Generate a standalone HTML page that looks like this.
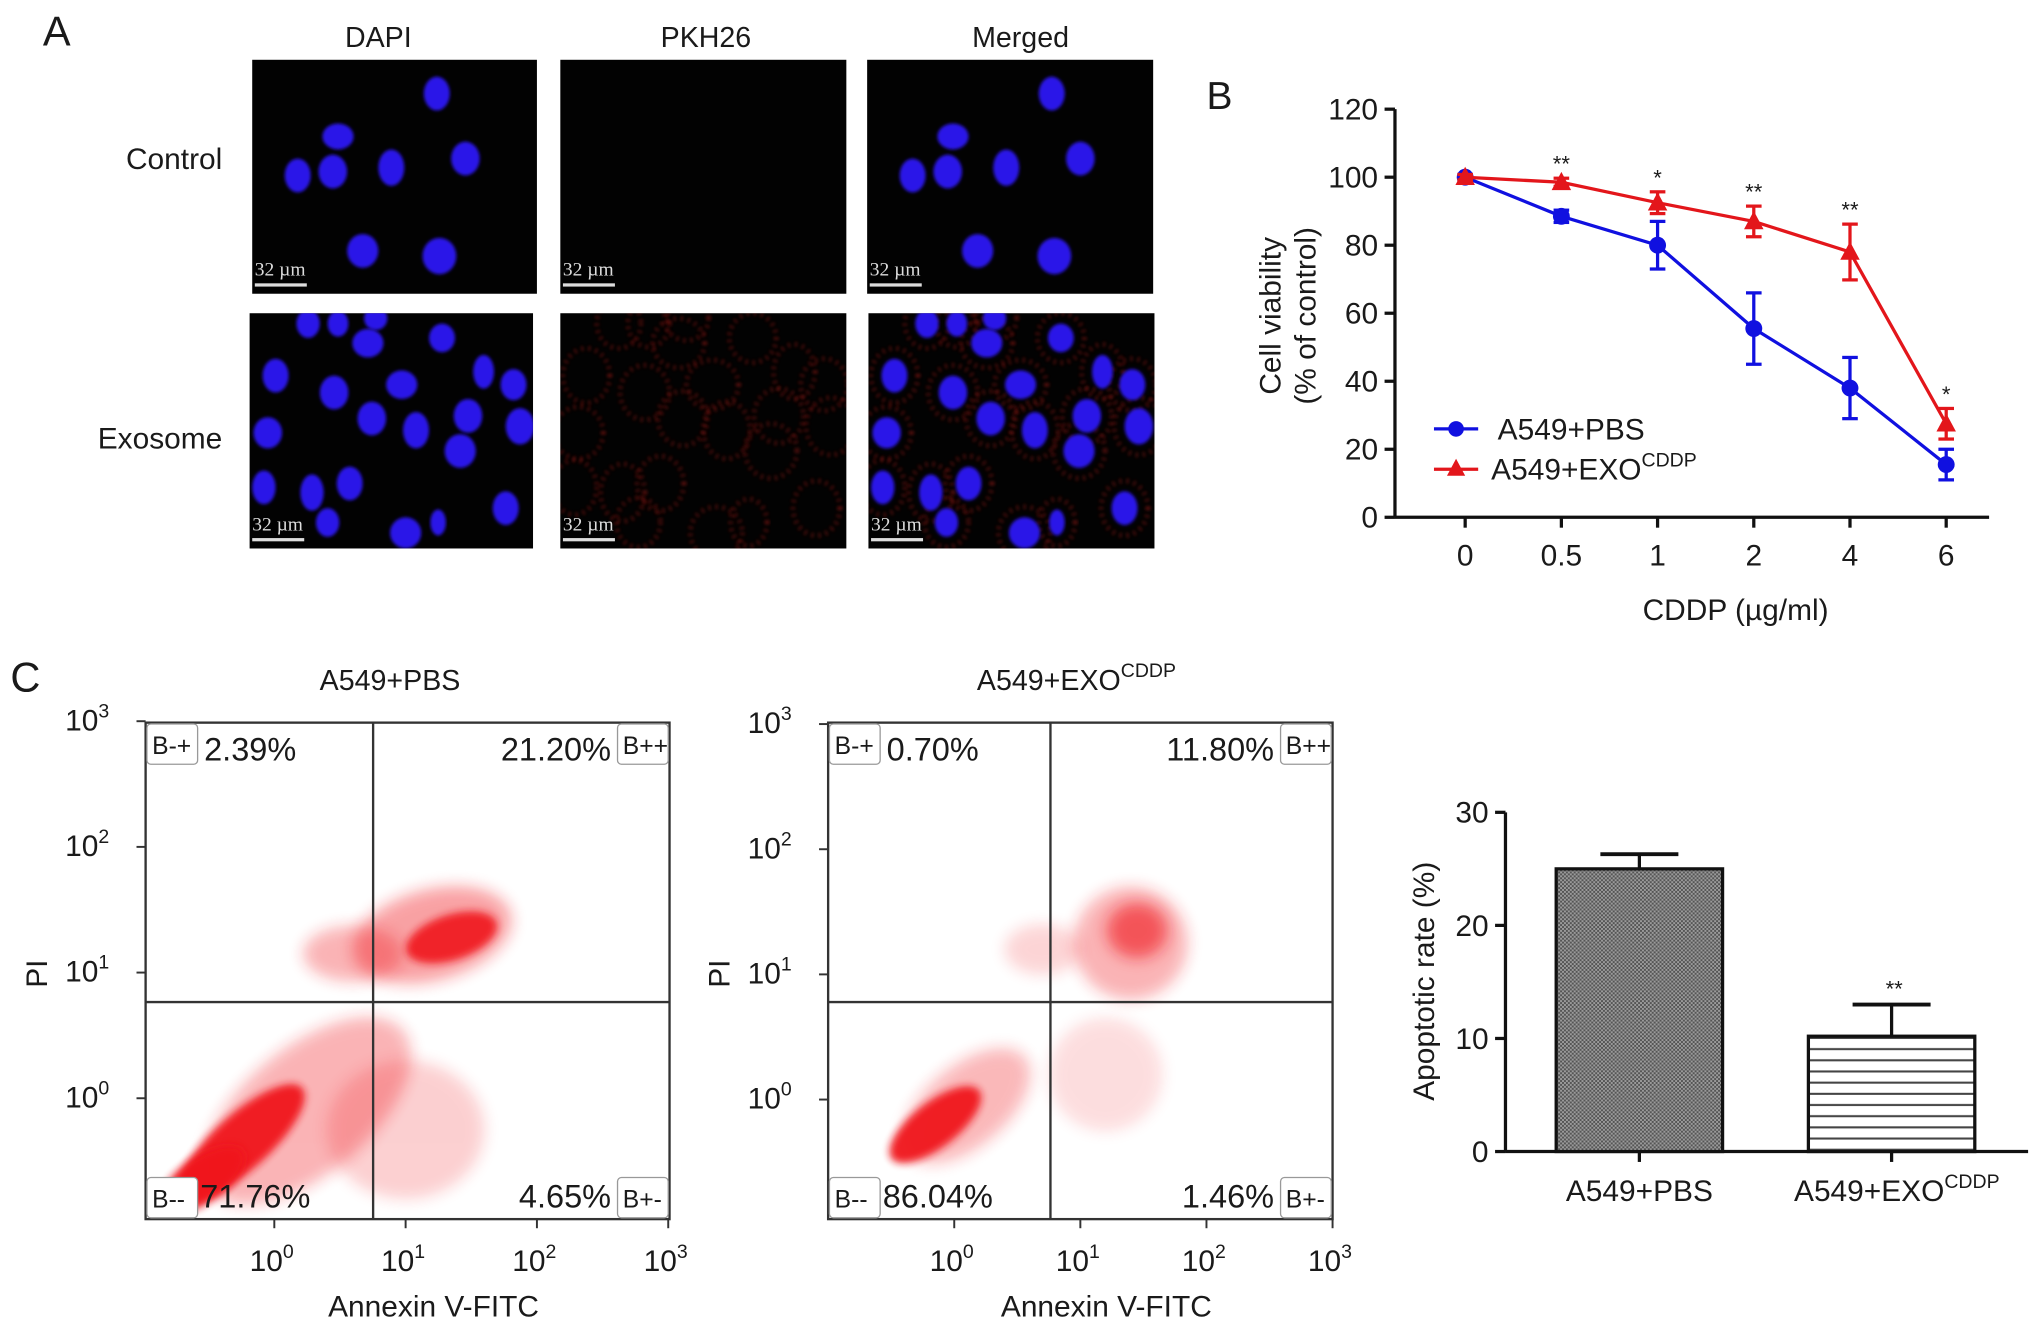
<!DOCTYPE html>
<html><head><meta charset="utf-8"><style>
html,body{margin:0;padding:0;background:#fff}
svg{display:block}
text{font-family:"Liberation Sans",Arial,sans-serif;fill:#1a1a1a}
</style></head><body>
<svg id="fig" xmlns="http://www.w3.org/2000/svg" width="2032" height="1327" viewBox="0 0 1563 1021" preserveAspectRatio="none">
<defs>
<filter id="blur3" x="-50%" y="-50%" width="200%" height="200%"><feGaussianBlur stdDeviation="3"/></filter>
<filter id="blur1"><feGaussianBlur stdDeviation="1.2"/></filter>
<filter id="blur6" x="-50%" y="-50%" width="200%" height="200%"><feGaussianBlur stdDeviation="6"/></filter>
<pattern id="checker" width="3" height="3" patternUnits="userSpaceOnUse"><rect width="3" height="3" fill="#9a9a9a"/><rect width="1.5" height="1.5" fill="#555"/><rect x="1.5" y="1.5" width="1.5" height="1.5" fill="#555"/></pattern>
<pattern id="hlines" width="10" height="8.6" patternUnits="userSpaceOnUse"><rect width="10" height="8.6" fill="#fff"/><rect y="6.6" width="10" height="1.6" fill="#444"/></pattern>
<clipPath id="clipS1"><rect x="112" y="556" width="403" height="382"/></clipPath>
<clipPath id="clipS2"><rect x="637" y="556" width="388" height="382"/></clipPath>
</defs>

<g>
<text x="33" y="35" font-size="32">A</text>
<text x="291" y="36" font-size="22" text-anchor="middle">DAPI</text>
<text x="543" y="36" font-size="22" text-anchor="middle">PKH26</text>
<text x="785" y="36" font-size="22" text-anchor="middle">Merged</text>
<text x="171" y="130" font-size="23" text-anchor="end">Control</text>
<text x="171" y="345" font-size="23" text-anchor="end">Exosome</text>
<g id="micro"></g>
</g>

<g id="panelB">
<text x="928" y="84" font-size="30">B</text>
</g>

<g id="panelC">
<text x="8" y="532" font-size="32">C</text>
</g>
</svg>
<script>
// ---------- Panel B data ----------
const doseLabels = ['0','0.5','1','2','4','6'];
const pbsMean = [100, 88.5, 80, 55.5, 38, 15.5];
const pbsErr  = [0.8, 1.8, 7, 10.5, 9, 4.5];
const exoMean = [100, 98.5, 92.5, 87, 78, 27.5];
const exoErr  = [0.8, 1.2, 3.2, 4.5, 8.2, 4.5];
const sigLabels = ['', '**', '*', '**', '**', '*'];
const viabTicks = [0, 20, 40, 60, 80, 100, 120];

// ---------- Panel C bar data ----------
const barGroups = ['A549+PBS', 'A549+EXO'];
const barMeans = [25, 10.2];
const barErrs = [1.3, 2.8];
const barSig = ['', '**'];
const rateTicks = [0, 10, 20, 30];

// ---------- Flow cytometry data (log10 units): cx, cy, rx, ry, angle, opacity ----------
const pbsClusters = [
  [0.25, -0.1, 0.95, 0.5, -40, 0.32],
  [1.0, -0.25, 0.6, 0.55, 0, 0.2],
  [-0.25, -0.35, 0.62, 0.22, -42, 0.95],
  [-0.55, -0.65, 0.38, 0.18, -35, 0.95],
  [1.2, 1.3, 0.62, 0.36, -15, 0.4],
  [1.35, 1.28, 0.36, 0.18, -18, 0.9],
  [0.6, 1.15, 0.38, 0.22, 0, 0.32]
];
const exoClusters = [
  [0.1, -0.05, 0.6, 0.32, -40, 0.3],
  [1.2, 0.2, 0.45, 0.45, 0, 0.14],
  [-0.15, -0.2, 0.44, 0.18, -38, 0.95],
  [1.4, 1.25, 0.45, 0.45, 0, 0.32],
  [1.45, 1.35, 0.24, 0.22, 0, 0.6],
  [0.7, 1.2, 0.3, 0.2, 0, 0.18]
];
const pbsQuad = ['2.39%', '21.20%', '71.76%', '4.65%'];
const exoQuad = ['0.70%', '11.80%', '86.04%', '1.46%'];
const logTicks = [0, 1, 2, 3];

// ---------- micrograph nuclei (image-local positions) ----------
const ctrlNuclei = [[336,72,10,13],[260,105,12,10],[229,135,10,13],[256,132,11,13],[301,129,10,14],[358,122,11,13],[279,193,12,13],[338,197,13,14]];
const exoNuclei = [[237,249,9,11],[260,249,8,10],[289,245,9,9],[283,264,12,11],[340,260,10,11],[212,289,10,13],[257,302,11,13],[309,296,12,11],[372,286,8,13],[395,296,10,12],[286,322,11,13],[320,331,10,14],[360,320,11,13],[400,328,11,14],[206,333,11,12],[354,347,12,13],[203,375,9,13],[240,379,9,14],[269,372,10,13],[389,391,10,13],[252,402,9,11],[312,410,12,12],[337,402,6,10]];

const NS='http://www.w3.org/2000/svg';
function el(tag, attrs, parent){const e=document.createElementNS(NS,tag);for(const k in attrs)e.setAttribute(k,attrs[k]);if(parent)parent.appendChild(e);return e;}
function txt(str, attrs, parent){const e=el('text',attrs,parent);e.textContent=str;return e;}

// ---------- Panel A ----------
const micro=document.getElementById('micro');
const imgs=[[194,46,219,180,'dapi-control'],[431,46,220,180,'pkh26-control'],[667,46,220,180,'merged-control'],[192,241,218,181,'dapi-exosome'],[431,241,220,181,'pkh26-exosome'],[668,241,220,181,'merged-exosome']];
imgs.forEach((im,idx)=>{
  const g=el('g',{},micro);
  
  
  el('rect',{x:im[0],y:im[1],width:im[2],height:im[3],fill:'#020202'},g);
  const cp=el('clipPath',{id:'cp'+idx},g);el('rect',{x:im[0],y:im[1],width:im[2],height:im[3]},cp);
  const inner=el('g',{'clip-path':'url(#cp'+idx+')'},g);
  const col=idx%3, row=Math.floor(idx/3);
  const list=row===0?ctrlNuclei:exoNuclei;
  const dx=im[0]-(row===0?194:192);
  if((col===1||col===2)&&row===1){
    list.forEach(n=>{el('ellipse',{cx:n[0]+dx,cy:n[1],rx:n[2]+8,ry:n[3]+8,fill:'none',stroke:'#c8201a','stroke-width':4,'stroke-dasharray':'1.5 4',opacity:0.45,filter:'url(#blur1)'},inner);});
  }
  if(col===0||col===2){
    list.forEach(n=>{el('ellipse',{cx:n[0]+dx,cy:n[1],rx:n[2],ry:n[3],fill:'#2a17e8',filter:'url(#blur1)'},inner);});
  }
  const sb=el('g',{},g);
  
  
  txt('32 µm',{x:im[0]+2,y:im[1]+im[3]-14,'font-size':15,style:'font-family:"Liberation Serif",serif;fill:#ddd'},sb);
  el('rect',{x:im[0]+2,y:im[1]+im[3]-8,width:40,height:2.5,fill:'#ddd'},sb);
});

// ---------- Panel B chart ----------
const B=document.getElementById('panelB');
const bx0=1073, by0=398, by120=84, bx1=1530;
const bX=i=>1127+i*74;
const bY=v=>by0-(v/120)*(by0-by120);
el('line',{x1:bx0,y1:by120,x2:bx0,y2:by0,stroke:'#111','stroke-width':2.5},B);
el('line',{x1:bx0,y1:by0,x2:bx1,y2:by0,stroke:'#111','stroke-width':2.5},B);
viabTicks.forEach(t=>{
  const l=el('line',{x1:bx0-8,y1:bY(t),x2:bx0,y2:bY(t),stroke:'#111','stroke-width':2.5},B);
  
  
  const tt=txt(String(t),{x:bx0-13,y:bY(t)+8,'font-size':23,'text-anchor':'end'},B);
  
  
});
doseLabels.forEach((d,i)=>{
  el('line',{x1:bX(i),y1:by0,x2:bX(i),y2:by0+8,stroke:'#111','stroke-width':2.5},B);
  const tt=txt(d,{x:bX(i),y:by0+37,'font-size':23,'text-anchor':'middle'},B);
  
  
});
const yt=txt('',{transform:'translate(985,243) rotate(-90)','font-size':23,'text-anchor':'middle'},B);


el('tspan',{x:0,y:0},yt).textContent='Cell viability';
el('tspan',{x:0,y:27},yt).textContent='(% of control)';
const xt=txt('CDDP (µg/ml)',{x:1335,y:477,'font-size':23,'text-anchor':'middle'},B);


function series(means,errs,color,marker,name){
  const g=el('g',{},B);
  
  
  el('polyline',{points:means.map((v,i)=>bX(i)+','+bY(v)).join(' '),fill:'none',stroke:color,'stroke-width':2.5},g);
  means.forEach((v,i)=>{
    const x=bX(i);
    el('line',{x1:x,y1:bY(v+errs[i]),x2:x,y2:bY(v-errs[i]),stroke:color,'stroke-width':2.5},g);
    el('line',{x1:x-6,y1:bY(v+errs[i]),x2:x+6,y2:bY(v+errs[i]),stroke:color,'stroke-width':2.5},g);
    el('line',{x1:x-6,y1:bY(v-errs[i]),x2:x+6,y2:bY(v-errs[i]),stroke:color,'stroke-width':2.5},g);
    let m;
    if(marker==='circle') m=el('circle',{cx:x,cy:bY(v),r:6.5,fill:color},g);
    else m=el('polygon',{points:`${x},${bY(v)-8} ${x-7.5},${bY(v)+6} ${x+7.5},${bY(v)+6}`,fill:color},g);
    
    
  });
}
series(pbsMean,pbsErr,'#1010e0','circle','series-pbs');
series(exoMean,exoErr,'#e3161b','triangle','series-exo');
sigLabels.forEach((s,i)=>{ if(!s)return;
  const t=txt(s,{x:bX(i),y:bY(exoMean[i]+exoErr[i])-5,'font-size':17,'text-anchor':'middle'},B);
  
  
});
const lg=el('g',{},B);


el('line',{x1:1103,y1:330,x2:1137,y2:330,stroke:'#1010e0','stroke-width':2.5},lg);
el('circle',{cx:1120,cy:330,r:6,fill:'#1010e0'},lg);
txt('A549+PBS',{x:1152,y:338,'font-size':23},lg);
el('line',{x1:1103,y1:361,x2:1137,y2:361,stroke:'#e3161b','stroke-width':2.5},lg);
el('polygon',{points:'1120,353 1113,366 1127,366',fill:'#e3161b'},lg);
const l2=txt('A549+EXO',{x:1147,y:369,'font-size':23},lg);
el('tspan',{dy:-10,'font-size':15},l2).textContent='CDDP';

// ---------- Panel C flow plots ----------
const C=document.getElementById('panelC');
function flow(opt){
  const g=el('g',{},C);
  
  
  const fx=l=>opt.x0+l*opt.dec;
  const fy=l=>opt.y0-l*opt.decY;
  const clip=el('g',{'clip-path':'url(#'+opt.clip+')'},g);
  opt.clusters.forEach(c=>{
    const e=el('ellipse',{cx:fx(c[0]),cy:fy(c[1]),rx:c[2]*opt.dec,ry:c[3]*opt.decY,fill:'#f0141a',opacity:c[5],filter:c[5]>0.6?'url(#blur3)':'url(#blur6)',transform:`rotate(${c[4]} ${fx(c[0])} ${fy(c[1])})`},clip);
    
    
  });
  el('rect',{x:opt.L,y:opt.T,width:opt.R-opt.L,height:opt.B-opt.T,fill:'none',stroke:'#333','stroke-width':1.8},g);
  el('line',{x1:opt.qx,y1:opt.T,x2:opt.qx,y2:opt.B,stroke:'#333','stroke-width':1.8},g);
  el('line',{x1:opt.L,y1:opt.qy,x2:opt.R,y2:opt.qy,stroke:'#333','stroke-width':1.8},g);
  logTicks.forEach(t=>{
    const xl=txt('10',{x:fx(t)-2,y:opt.B+40,'font-size':23,'text-anchor':'middle'},g);
    el('tspan',{dy:-10,'font-size':15},xl).textContent=String(t);
    
    
    el('line',{x1:fx(t),y1:opt.B,x2:fx(t),y2:opt.B+7,stroke:'#333','stroke-width':1.5},g);
    const yl=txt('10',{x:opt.L-28,y:fy(t)+7,'font-size':23,'text-anchor':'end'},g);
    el('tspan',{dy:-10,'font-size':15},yl).textContent=String(t);
    
    
    el('line',{x1:opt.L-7,y1:fy(t),x2:opt.L,y2:fy(t),stroke:'#333','stroke-width':1.5},g);
  });
  const tt=txt(opt.title,{x:opt.tx,y:531,'font-size':22,'text-anchor':'middle'},g);
  if(opt.sup) el('tspan',{dy:-10,'font-size':15},tt).textContent=opt.sup;
  
  
  const xa=txt('Annexin V-FITC',{x:(opt.L+opt.R)/2+20,y:1013,'font-size':23,'text-anchor':'middle'},g);
  
  
  const ya=txt('PI',{transform:`translate(${opt.L-76},760) rotate(-90)`,'font-size':23},g);
  
  
  const boxes=[['B-+',opt.L+1,opt.T+1],['B++',opt.R-40,opt.T+1],['B--',opt.L+1,opt.B-32],['B+-',opt.R-40,opt.B-32]];
  boxes.forEach(b=>{
    el('rect',{x:b[1],y:b[2],width:39,height:31,rx:3,fill:'#fff',stroke:'#999','stroke-width':1},g);
    txt(b[0],{x:b[1]+4,y:b[2]+23,'font-size':19},g);
  });
  const q=opt.quad;
  const pcs=[[q[0],opt.L+45,opt.T+29,'start'],[q[1],opt.R-45,opt.T+29,'end'],[q[2],opt.L+42,opt.B-9,'start'],[q[3],opt.R-45,opt.B-9,'end']];
  pcs.forEach(p=>{
    const t=txt(p[0],{x:p[1],y:p[2],'font-size':25,'text-anchor':p[3]},g);
    
    
  });
}
flow({name:'flow-plot-pbs',clip:'clipS1',L:112,R:515,T:556,B:938,x0:211,dec:101,y0:845,decY:96.7,qx:287,qy:771,clusters:pbsClusters,quad:pbsQuad,title:'A549+PBS',tx:300});
flow({name:'flow-plot-exo',clip:'clipS2',L:637,R:1025,T:556,B:938,x0:734,dec:97,y0:846,decY:96.3,qx:808,qy:771,clusters:exoClusters,quad:exoQuad,title:'A549+EXO',sup:'CDDP',tx:828});

// ---------- Panel C bar chart ----------
const G=el('g',{},C);


const ax0=1158, ay0=886, ay30=625, axR=1560;
const rY=v=>ay0-(v/30)*(ay0-ay30);
const barCx=[1261,1455], barW=128;
el('line',{x1:ax0,y1:ay30,x2:ax0,y2:ay0,stroke:'#111','stroke-width':2.5},G);
el('line',{x1:ax0,y1:ay0,x2:axR,y2:ay0,stroke:'#111','stroke-width':2.5},G);
rateTicks.forEach(t=>{
  el('line',{x1:ax0-8,y1:rY(t),x2:ax0,y2:rY(t),stroke:'#111','stroke-width':2.5},G);
  const tt=txt(String(t),{x:ax0-13,y:rY(t)+8,'font-size':23,'text-anchor':'end'},G);
  
  
});
const yb=txt('Apoptotic rate (%)',{transform:'translate(1103,755) rotate(-90)','font-size':23,'text-anchor':'middle'},G);


barMeans.forEach((v,i)=>{
  const cx=barCx[i];
  const top=rY(v+barErrs[i]);
  el('line',{x1:cx,y1:top,x2:cx,y2:rY(v),stroke:'#111','stroke-width':2.5},G);
  el('line',{x1:cx-30,y1:top,x2:cx+30,y2:top,stroke:'#111','stroke-width':3},G);
  const r=el('rect',{x:cx-barW/2,y:rY(v),width:barW,height:ay0-rY(v),fill:i===0?'url(#checker)':'url(#hlines)',stroke:'#111','stroke-width':2.5},G);
  
  
  el('line',{x1:cx,y1:ay0,x2:cx,y2:ay0+8,stroke:'#111','stroke-width':2.5},G);
  const lab=txt(barGroups[i],{x:cx,y:924,'font-size':23,'text-anchor':'middle'},G);
  if(i===1){el('tspan',{dy:-10,'font-size':15},lab).textContent='CDDP';lab.setAttribute('x',cx+4);}
  
  
  if(barSig[i]){
    const s=txt(barSig[i],{x:cx+2,y:top-6,'font-size':17,'text-anchor':'middle'},G);
    
    
  }
});
</script>
</body></html>
